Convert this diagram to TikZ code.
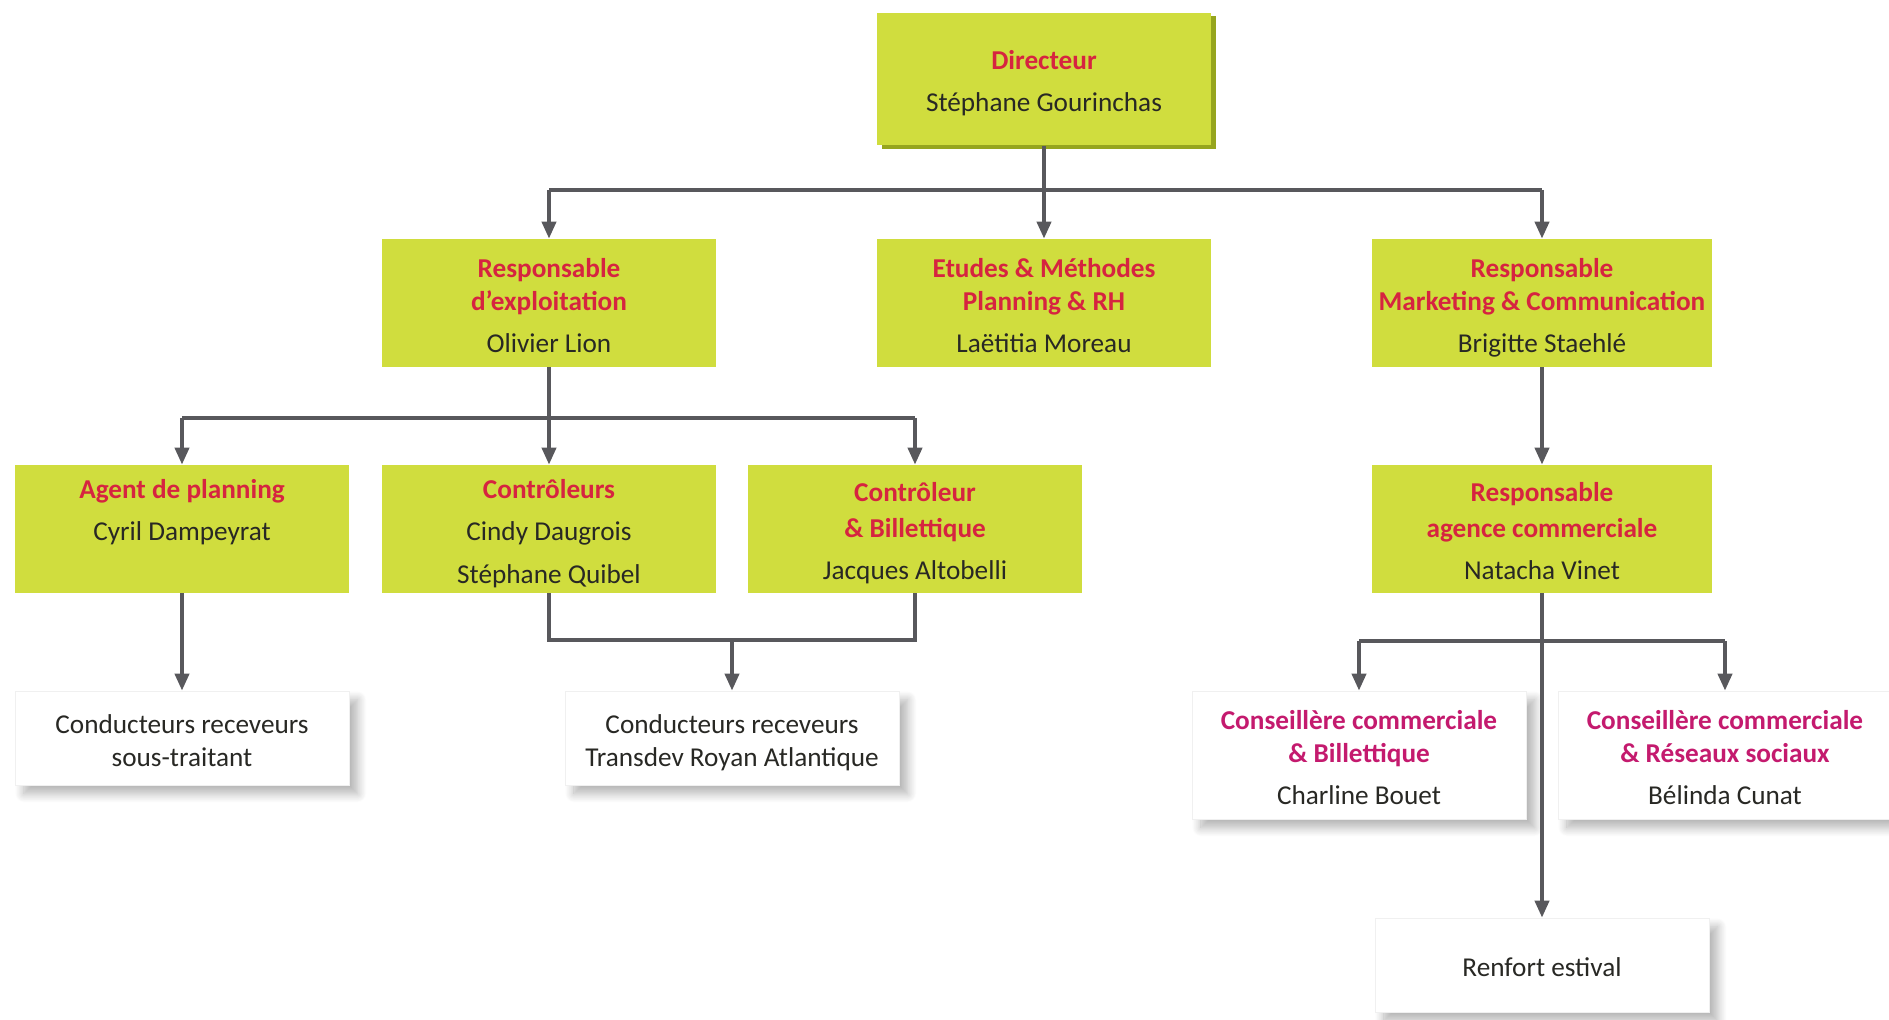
\documentclass[tikz,border=0pt]{standalone}
\usepackage{fontspec}
\setmainfont{Carlito}
\usepackage{tikz}
\usetikzlibrary{arrows.meta, positioning, shadows, shadows.blur}
\definecolor{boxgreen}{RGB}{208,221,62}
\definecolor{dirshade}{RGB}{150,165,30}
\definecolor{titlered}{RGB}{214,36,64}
\definecolor{titlepink}{RGB}{196,26,110}
\definecolor{namegray}{RGB}{40,40,36}
\definecolor{linkgray}{RGB}{88,88,92}
\newcommand{\rtitle}[1]{{\bfseries\color{titlered}#1}}
\newcommand{\ptitle}[1]{{\bfseries\color{titlepink}#1}}

\begin{document}
\begin{tikzpicture}[
                x=0.02cm, y=-0.02cm,
                font=\fontsize{15.5}{18.5}\selectfont,
                textrules/.style={text width=6.6cm, align=flush center,
                    execute at begin node={\vrule width 0pt height 17pt depth 0pt\relax},
                    execute at end node={\vrule width 0pt height 0pt depth 3.5pt\relax}},
                greenbox/.style={fill=boxgreen, text=namegray, inner sep=0pt, minimum width=6.68cm, minimum height=2.56cm, textrules},
                whitebox/.style={fill=white, draw=black!6, text=namegray, inner sep=0pt, minimum width=6.68cm, minimum height=1.88cm, textrules,
                    blur shadow={shadow xshift=5pt, shadow yshift=-5pt, shadow blur radius=5pt, shadow blur steps=14, shadow opacity=30}},
                link/.style={draw=linkgray, line width=2.2pt},
                arrow/.style={link, -{Triangle[length=0.34cm, width=0.28cm]}},
            ]
                \useasboundingbox (0,0) rectangle (1889,1020);

                % Direction
                \node[greenbox, minimum height=2.66cm,
                      drop shadow={fill=dirshade, opacity=1, shadow xshift=3pt, shadow yshift=-2pt}] (dir) at (1044,79)
                    {\rtitle{Directeur}\\[5.5pt] Stéphane Gourinchas};

                % Second level
                \node[greenbox] (exploit) at (549,303) {\rtitle{Responsable}\\\rtitle{d’exploitation}\\[5.5pt] Olivier Lion};
                \node[greenbox] (etudes) at (1044,303) {\rtitle{Etudes \& Méthodes}\\\rtitle{Planning \& RH}\\[5.5pt] Laëtitia Moreau};
                \node[greenbox, minimum width=6.8cm, text width=6.8cm] (mkt) at (1542,303) {\rtitle{Responsable}\\\rtitle{Marketing \& Communication}\\[5.5pt] Brigitte Staehlé};

                % Third level
                \node[greenbox] (agent) at (182,529) {\rtitle{Agent de planning}\\[5.5pt] Cyril Dampeyrat\\[5.5pt] \phantom{X}};
                \node[greenbox] (ctrl) at (549,529) {\rtitle{Contrôleurs}\\[5.5pt] Cindy Daugrois\\[5.5pt] Stéphane Quibel};
                \node[greenbox] (billet) at (915,529) {\rtitle{Contrôleur}\\[2pt]\rtitle{\& Billettique}\\[5.5pt] Jacques Altobelli};
                \node[greenbox, minimum width=6.8cm, text width=6.8cm] (agence) at (1542,529) {\rtitle{Responsable}\\[2pt]\rtitle{agence commerciale}\\[5.5pt] Natacha Vinet};

                % Drivers and advisers
                \node[whitebox] (soustr) at (182,738) {Conducteurs receveurs\\sous-traitant};
                \node[whitebox] (transdev) at (732,738) {Conducteurs receveurs\\Transdev Royan Atlantique};
                \node[whitebox, minimum height=2.56cm] (cbil) at (1359,755) {\ptitle{Conseillère commerciale}\\\ptitle{\& Billettique}\\[5.5pt] Charline Bouet};
                \node[whitebox, minimum height=2.56cm] (cres) at (1725,755) {\ptitle{Conseillère commerciale}\\\ptitle{\& Réseaux sociaux}\\[5.5pt] Bélinda Cunat};
                \node[whitebox] (renfort) at (1542,965) {Renfort estival};

                % Junctions
                \coordinate (bus1) at (1044,190);
                \coordinate (bus2) at (549,418);
                \coordinate (bus3) at (732,640);
                \coordinate (bus4) at (1542,641);

                % Connectors
                \draw[link] (dir.south) -- (bus1);
                \draw[link] (bus1 -| exploit) -- (bus1 -| mkt);
                \draw[arrow] (bus1 -| exploit) -- (exploit.north);
                \draw[arrow] (bus1) -- (etudes.north);
                \draw[arrow] (bus1 -| mkt) -- (mkt.north);

                \draw[link] (exploit.south) -- (bus2);
                \draw[link] (bus2 -| agent) -- (bus2 -| billet);
                \draw[arrow] (bus2 -| agent) -- (agent.north);
                \draw[arrow] (bus2) -- (ctrl.north);
                \draw[arrow] (bus2 -| billet) -- (billet.north);

                \draw[arrow] (agent.south) -- (soustr.north);
                \draw[link] (ctrl.south) |- (bus3) -| (billet.south);
                \draw[arrow] (bus3) -- (transdev.north);

                \draw[arrow] (mkt.south) -- (agence.north);
                \draw[link] (bus4 -| cbil) -- (bus4 -| cres);
                \draw[arrow] (bus4 -| cbil) -- (cbil.north);
                \draw[arrow] (bus4 -| cres) -- (cres.north);
                \draw[arrow] (agence.south) -- (renfort.north);
            \end{tikzpicture}
\end{document}
